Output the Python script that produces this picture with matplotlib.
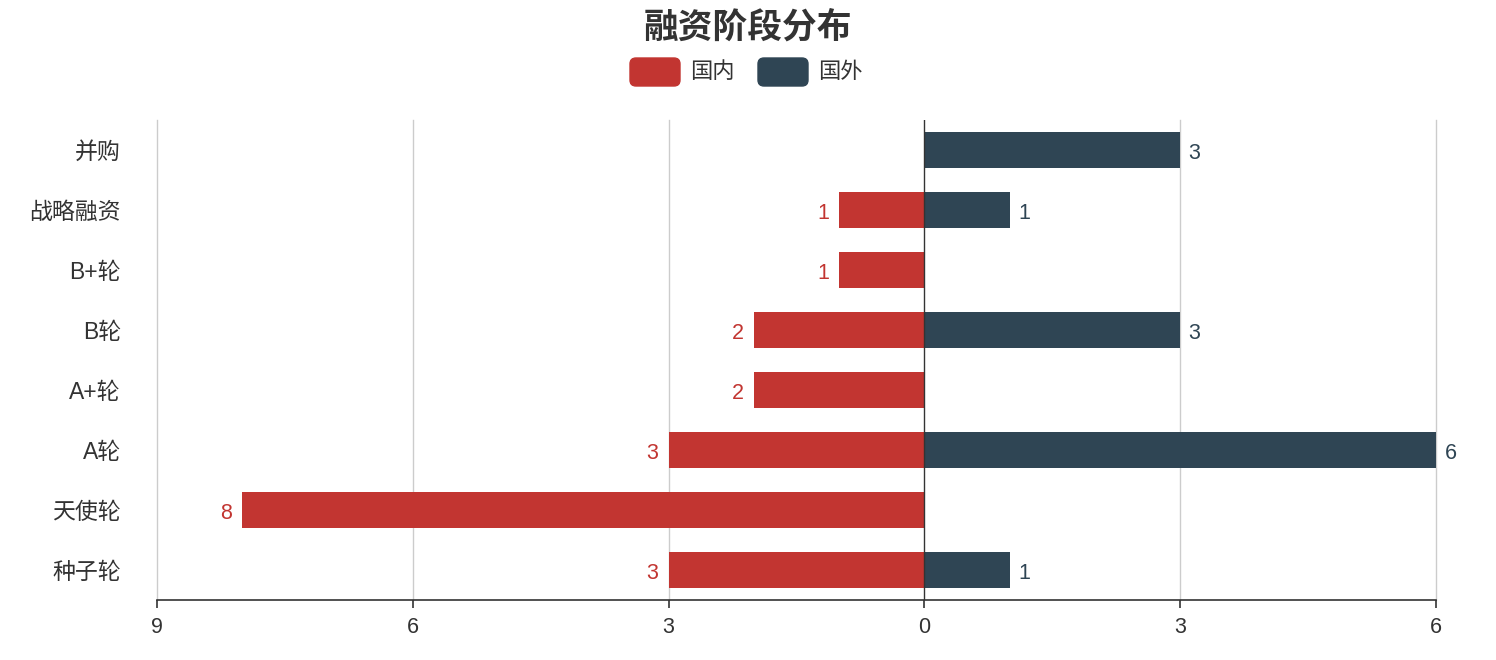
import matplotlib
matplotlib.use('Agg')
from matplotlib import pyplot as plt
from matplotlib.patches import FancyBboxPatch
from matplotlib.transforms import IdentityTransform

plt.rcParams['font.family'] = ['Liberation Sans', 'Noto Sans CJK SC']

stages = ['种子轮', '天使轮', 'A轮', 'A+轮', 'B轮', 'B+轮', '战略融资', '并购']
domestic = [3, 8, 3, 2, 2, 1, 1, 0]
foreign = [1, 0, 6, 0, 3, 0, 1, 3]
ticks = [-9, -6, -3, 0, 3, 6]

red = '#c23531'
navy = '#2f4554'
txt = '#333333'

W, H = 1496, 660
fig = plt.figure(figsize=(W/100, H/100), dpi=100)
ax = fig.add_axes([157/W, 1 - 600/H, 1279/W, 480/H])

ypos = list(range(len(stages)))
ax.barh(ypos, [-d for d in domestic], height=0.6, color=red, zorder=3)
ax.barh(ypos, foreign, height=0.6, color=navy, zorder=3)

for y, d in zip(ypos, domestic):
    if d:
        ax.text(-d - 0.12, y - 0.06, str(d), color=red, fontsize=15.5,
                ha='right', va='center')
for y, f in zip(ypos, foreign):
    if f:
        ax.text(f + 0.1, y - 0.06, str(f), color=navy, fontsize=15.5,
                ha='left', va='center')

ax.set_xlim(-9, 6)
ax.set_ylim(-0.5, len(stages) - 0.5)
ax.set_xticks(ticks)
ax.set_xticklabels([str(abs(t)) for t in ticks], fontsize=15.5, color=txt)
ax.set_yticks(ypos)
ax.set_yticklabels(stages, fontsize=16.5, color=txt)
for t in ticks:
    if t != 0:
        ax.axvline(t, color='#cccccc', lw=1, zorder=1, clip_on=False)
ax.axvline(0, color='#333333', lw=1, zorder=4)

for s in ('top', 'right', 'left'):
    ax.spines[s].set_visible(False)
ax.spines['bottom'].set_color('#333333')
ax.spines['bottom'].set_linewidth(1.2)
ax.tick_params(axis='x', length=6, width=1.2, color='#333333', pad=6)
ax.tick_params(axis='y', length=0, pad=26)

fig.text(748/W, 1 - 28/H, '融资阶段分布', fontsize=25, fontweight='bold',
         color=txt, ha='center', va='center')

for x0, col, lab in ((630, red, '国内'), (758, navy, '国外')):
    p = FancyBboxPatch((x0, H - 86), 50, 28,
                       boxstyle='round,pad=0,rounding_size=6',
                       transform=IdentityTransform(), color=col)
    fig.patches.append(p)
    fig.text((x0 + 60)/W, 1 - 72/H, lab, fontsize=16, color=txt,
             ha='left', va='center')

fig.savefig('out.png')
